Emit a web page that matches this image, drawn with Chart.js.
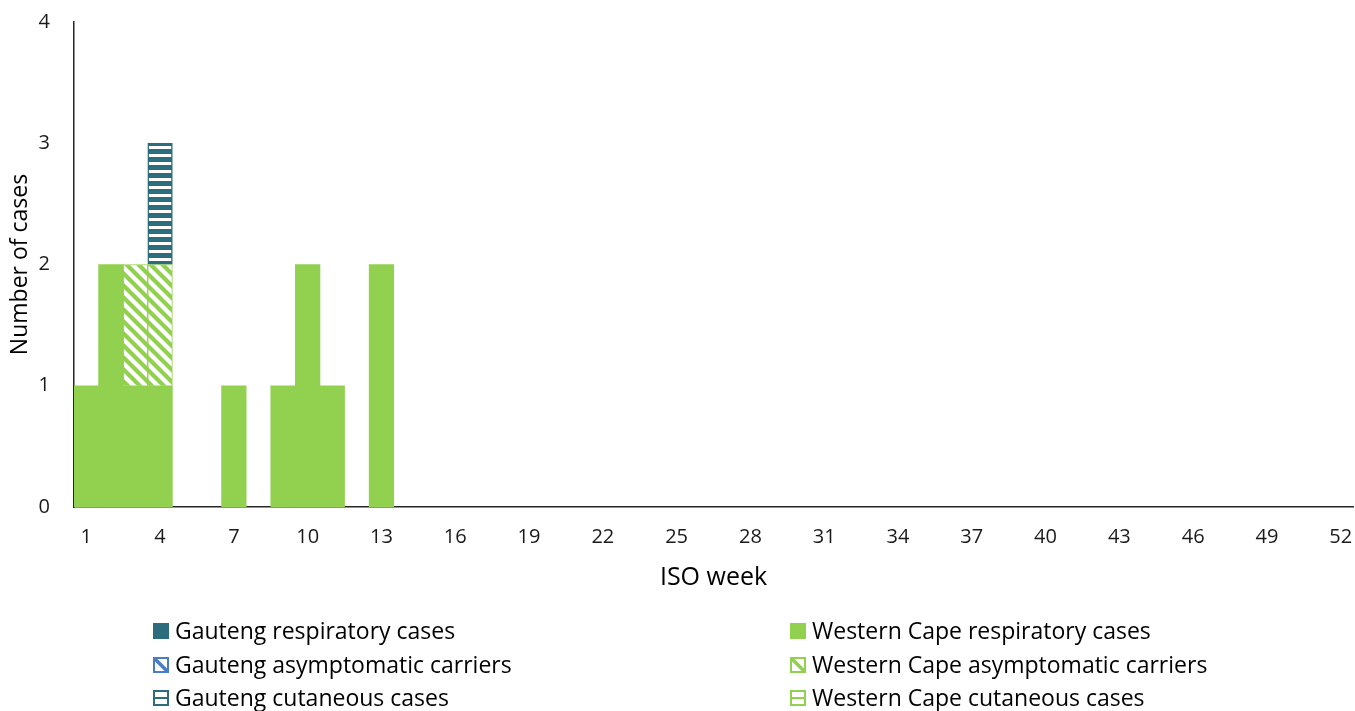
<!DOCTYPE html>
<html>
<head>
<meta charset="utf-8">
<script src="https://cdn.jsdelivr.net/npm/chart.js@4.4.1/dist/chart.umd.min.js"></script>
<style>
  html, body { margin: 0; padding: 0; background: #fff; }
  #wrap { width: 1355px; height: 711px; }
</style>
</head>
<body>
<div id="wrap"><canvas id="cases-chart" width="1355" height="711"></canvas></div>
<script>
// ISO weeks 1-52 on the x axis, only every third one labelled
const weeks = Array.from({ length: 52 }, (_, i) => i + 1);
const yTicks = [0, 1, 2, 3, 4];

// Weekly counts per province and presentation (weeks not listed had no cases)
const wcRespiratoryWeeks = [1, 2, 3, 4, 7, 9, 10, 11, 13];
const wcRespiratoryCases = [1, 2, 1, 1, 1, 1, 2, 1, 2];
const wcAsymptomaticWeeks = [3, 4];
const wcAsymptomaticCases = [1, 1];
const wcCutaneousWeeks = [];
const wcCutaneousCases = [];
const gtRespiratoryWeeks = [];
const gtRespiratoryCases = [];
const gtAsymptomaticWeeks = [];
const gtAsymptomaticCases = [];
const gtCutaneousWeeks = [4];
const gtCutaneousCases = [1];

const GREEN = "#92d050";
const TEAL = "#2c6c7d";
const BLUE = "#4a7ec4";
const FONT = "'Open Sans', 'Liberation Sans', sans-serif";

function points(ws, vs) {
  return ws.map((w, i) => ({ x: w, y: vs[i] }));
}

// ── Fill patterns ─────────────────────────────────────────────

function diagonalPattern(color) {
  const size = 12;
  const c = document.createElement("canvas");
  c.width = size;
  c.height = size;
  const g = c.getContext("2d");
  g.fillStyle = color;
  g.fillRect(0, 0, size, size);
  g.strokeStyle = "#fff";
  g.lineWidth = 4.2;
  for (let k = -1; k <= 1; k++) {
    g.beginPath();
    g.moveTo(k * size - 2, -2);
    g.lineTo(k * size + size + 2, size + 2);
    g.stroke();
  }
  return g.createPattern(c, "repeat");
}

function stripePattern(color) {
  const c = document.createElement("canvas");
  c.width = 8;
  c.height = 8;
  const g = c.getContext("2d");
  g.fillStyle = color;
  g.fillRect(0, 0, 8, 8);
  g.fillStyle = "#fff";
  g.fillRect(0, 2, 8, 3);
  return g.createPattern(c, "repeat");
}

const ctx = document.getElementById("cases-chart").getContext("2d");

// stacking order: Western Cape at the bottom, Gauteng above
const datasets = [
  { label: "Western Cape respiratory cases", data: points(wcRespiratoryWeeks, wcRespiratoryCases),
    backgroundColor: GREEN, borderWidth: 0, legend: { col: 1, row: 0, kind: "solid", color: GREEN } },
  { label: "Western Cape asymptomatic carriers", data: points(wcAsymptomaticWeeks, wcAsymptomaticCases),
    backgroundColor: diagonalPattern(GREEN), borderColor: GREEN, borderWidth: 1,
    legend: { col: 1, row: 1, kind: "diag", color: GREEN } },
  { label: "Western Cape cutaneous cases", data: points(wcCutaneousWeeks, wcCutaneousCases),
    backgroundColor: stripePattern(GREEN), borderColor: GREEN, borderWidth: 1,
    legend: { col: 1, row: 2, kind: "stripe", color: GREEN } },
  { label: "Gauteng respiratory cases", data: points(gtRespiratoryWeeks, gtRespiratoryCases),
    backgroundColor: TEAL, borderWidth: 0, legend: { col: 0, row: 0, kind: "solid", color: TEAL } },
  { label: "Gauteng asymptomatic carriers", data: points(gtAsymptomaticWeeks, gtAsymptomaticCases),
    backgroundColor: diagonalPattern(BLUE), borderColor: BLUE, borderWidth: 1,
    legend: { col: 0, row: 1, kind: "diag", color: BLUE } },
  { label: "Gauteng cutaneous cases", data: points(gtCutaneousWeeks, gtCutaneousCases),
    backgroundColor: stripePattern(TEAL), borderColor: TEAL, borderWidth: 1.5,
    legend: { col: 0, row: 2, kind: "stripe", color: TEAL } },
];

// Two-column legend under the axis, drawn by hand
const gridLegendPlugin = {
  id: "gridLegend",
  afterDraw(chart) {
    const c = chart.ctx;
    const colX = [153, 790];
    const rowY = [631, 665, 698];
    const box = 16;
    c.save();
    c.font = "23px " + FONT;
    c.textBaseline = "middle";
    chart.data.datasets.forEach((ds) => {
      const { col, row, kind, color } = ds.legend;
      const x = colX[col];
      const y = rowY[row];
      const top = y - box / 2;
      if (kind === "solid") {
        c.fillStyle = color;
        c.fillRect(x, top, box, box);
      } else {
        c.fillStyle = "#fff";
        c.fillRect(x, top, box, box);
        c.strokeStyle = color;
        c.lineWidth = 2;
        c.strokeRect(x + 1, top + 1, box - 2, box - 2);
        c.beginPath();
        if (kind === "diag") {
          c.lineWidth = 3.5;
          c.moveTo(x + 2, top + 2);
          c.lineTo(x + box - 2, top + box - 2);
        } else {
          c.lineWidth = 2;
          c.moveTo(x, y);
          c.lineTo(x + box, y);
        }
        c.stroke();
      }
      c.fillStyle = "#000";
      c.fillText(ds.label, x + box + 6, y + 1);
    });
    c.restore();
  },
};

new Chart(ctx, {
  type: "bar",
  plugins: [gridLegendPlugin],
  data: { labels: weeks, datasets },
  options: {
    responsive: false,
    animation: false,
    layout: { padding: { top: 22, right: 2, left: 0, bottom: 114 } },
    datasets: { bar: { categoryPercentage: 1, barPercentage: 1 } },
    scales: {
      x: {
        stacked: true,
        grid: { display: false, drawTicks: false },
        border: { display: true, color: "#262626", width: 1.5 },
        ticks: {
          autoSkip: false,
          maxRotation: 0,
          padding: 18,
          color: "#1a1a1a",
          font: { family: FONT, size: 20 },
          callback: (v, i) => (i % 3 === 0 ? String(weeks[i]) : ""),
        },
        title: { display: true, text: "ISO week", color: "#000", font: { family: FONT, size: 25 }, padding: { bottom: 4 } },
        afterFit: (s) => {
          s.height = 90;
          s.paddingLeft = 0;
          s.paddingRight = 0;
        },
      },
      y: {
        stacked: true,
        min: 0,
        max: 4,
        grid: { display: false, drawTicks: false },
        border: { display: true, color: "#262626", width: 1.5 },
        afterBuildTicks: (s) => { s.ticks = yTicks.map((v) => ({ value: v })); },
        ticks: { padding: 24, color: "#1a1a1a", font: { family: FONT, size: 20 } },
        title: { display: true, text: "Number of cases", color: "#000", font: { family: FONT, size: 23 }, padding: { top: 7 } },
        afterFit: (s) => {
          s.width = 74;
          s.paddingTop = 0;
          s.paddingBottom = 0;
        },
      },
    },
    plugins: {
      legend: { display: false },
      tooltip: { enabled: false },
    },
  },
});
</script>
</body>
</html>
